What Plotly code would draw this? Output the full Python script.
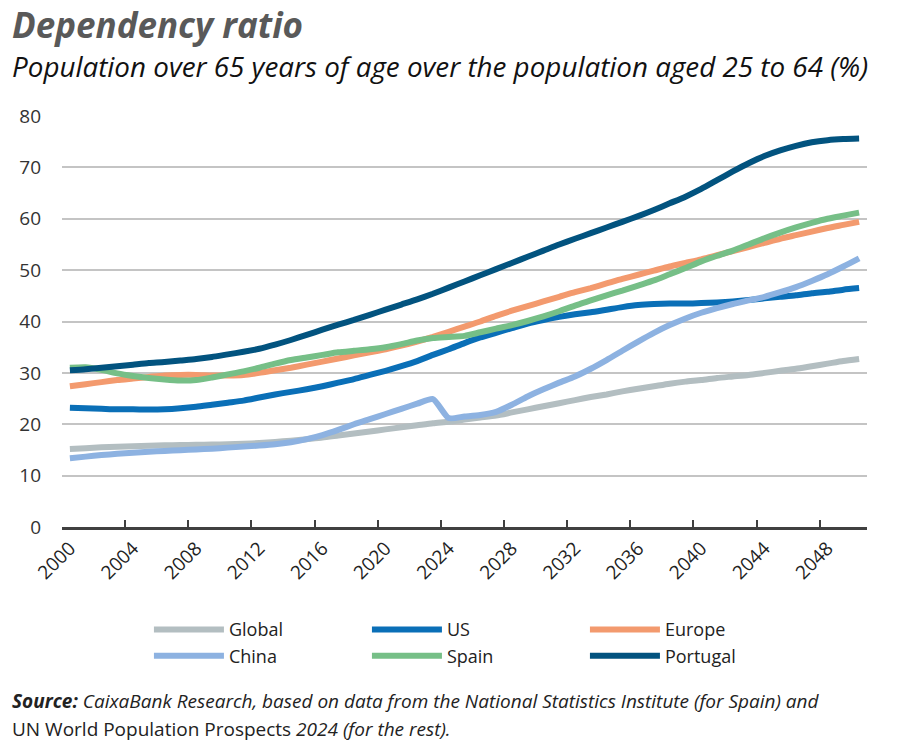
import plotly.graph_objects as go

# years 2000-2050, category axis
years = [str(y) for y in range(2000, 2051)]

global_ratio = [15.2, 15.35, 15.5, 15.6, 15.7, 15.8, 15.9, 15.95, 16.0, 16.05,
                16.1, 16.2, 16.35, 16.55, 16.8, 17.1, 17.4, 17.8, 18.2, 18.6,
                19.0, 19.4, 19.8, 20.2, 20.5, 20.9, 21.3, 21.7, 22.3, 22.9,
                23.5, 24.1, 24.7, 25.3, 25.8, 26.4, 26.9, 27.4, 27.9, 28.3,
                28.6, 29.0, 29.3, 29.6, 30.0, 30.4, 30.8, 31.3, 31.8, 32.3, 32.7]

us_ratio = [23.2, 23.1, 23.0, 22.9, 22.9, 22.85, 22.9, 23.1, 23.4, 23.8,
            24.2, 24.6, 25.2, 25.8, 26.3, 26.8, 27.4, 28.1, 28.8, 29.6,
            30.4, 31.3, 32.3, 33.5, 34.6, 35.8, 36.9, 37.8, 38.7, 39.6,
            40.3, 40.9, 41.4, 41.8, 42.3, 42.8, 43.2, 43.4, 43.5, 43.5,
            43.6, 43.7, 43.9, 44.2, 44.5, 44.8, 45.1, 45.5, 45.8, 46.2, 46.5]

europe_ratio = [27.4, 27.8, 28.2, 28.6, 28.9, 29.2, 29.5, 29.6, 29.6, 29.5,
                29.5, 29.6, 30.0, 30.5, 31.0, 31.6, 32.2, 32.8, 33.4, 34.0,
                34.6, 35.3, 36.1, 37.0, 38.0, 39.0, 40.0, 41.1, 42.1, 43.0,
                43.9, 44.8, 45.7, 46.5, 47.4, 48.3, 49.1, 49.9, 50.7, 51.4,
                52.1, 52.9, 53.7, 54.5, 55.3, 56.1, 56.8, 57.5, 58.2, 58.8, 59.4]

china_ratio = [13.4, 13.7, 14.0, 14.25, 14.45, 14.65, 14.8, 14.95, 15.1, 15.25,
               15.45, 15.65, 15.85, 16.1, 16.5, 17.1, 17.9, 18.9, 20.0, 21.0,
               22.0, 23.0, 24.0, 24.9, 21.2, 21.5, 21.8, 22.4, 23.8, 25.4,
               26.8, 28.1, 29.3, 30.8, 32.5, 34.3, 36.1, 37.8, 39.3, 40.6,
               41.7, 42.6, 43.4, 44.1, 44.8, 45.7, 46.7, 47.9, 49.2, 50.7, 52.3]

spain_ratio = [31.0, 31.1, 30.6, 29.9, 29.4, 29.0, 28.7, 28.5, 28.6, 29.1,
               29.7, 30.3, 31.0, 31.8, 32.5, 33.0, 33.5, 34.0, 34.3, 34.6,
               35.0, 35.6, 36.3, 36.8, 37.0, 37.2, 37.9, 38.6, 39.3, 40.1,
               41.0, 42.0, 43.1, 44.1, 45.1, 46.0, 47.0, 48.0, 49.2, 50.4,
               51.7, 52.8, 53.8, 55.0, 56.2, 57.3, 58.3, 59.2, 60.0, 60.6, 61.2]

portugal_ratio = [30.5, 30.7, 31.0, 31.3, 31.6, 31.9, 32.1, 32.4, 32.7, 33.1,
                  33.6, 34.1, 34.7, 35.5, 36.4, 37.4, 38.4, 39.4, 40.3, 41.3,
                  42.3, 43.3, 44.3, 45.4, 46.6, 47.8, 49.0, 50.2, 51.4, 52.6,
                  53.8, 55.0, 56.1, 57.2, 58.3, 59.4, 60.5, 61.7, 63.0, 64.3,
                  65.8, 67.5, 69.2, 70.8, 72.2, 73.3, 74.2, 74.9, 75.3, 75.5, 75.6]

series = [
    ("Global", global_ratio, "#b3bec1"),
    ("US", us_ratio, "#0a6fb7"),
    ("Europe", europe_ratio, "#f39a6e"),
    ("China", china_ratio, "#8db2e1"),
    ("Spain", spain_ratio, "#76bf87"),
    ("Portugal", portugal_ratio, "#02537f"),
]

FONT = "Open Sans"

fig = go.Figure()
for name, vals, color in series:
    fig.add_trace(go.Scatter(x=years, y=vals, name=name, mode="lines",
                             line=dict(color=color, width=6, shape="spline", smoothing=0.6)))

fig.update_layout(
    width=900, height=745,
    margin=dict(l=62, r=33, t=116, b=217.5),
    paper_bgcolor="white", plot_bgcolor="white",
    font=dict(family=FONT, size=18, color="#333333"),
    showlegend=True,
    legend=dict(orientation="h", x=0.108, xanchor="left", y=-0.205, yanchor="top",
                entrywidth=133, itemwidth=70, font=dict(size=18, color="#222222"),
                tracegroupgap=0, traceorder="normal"),
)

fig.update_xaxes(
    type="category", range=[-0.5, 50.5],
    tickmode="linear", tick0=0, dtick=4, tickson="boundaries",
    ticks="inside", ticklen=7, tickwidth=1.5, tickcolor="#404040",
    showline=True, linecolor="#404040", linewidth=2.5,
    showgrid=False, tickangle=-45,
    tickfont=dict(size=19, color="#222222"),
)
fig.update_yaxes(
    range=[0, 80], dtick=10, showgrid=True, gridcolor="#c4c4c4", gridwidth=1.5,
    zeroline=False, showline=False, ticks="", ticklabelstandoff=20,
    tickfont=dict(size=19, color="#333333"),
)

fig.add_annotation(xref="paper", yref="paper", x=-0.064, y=1.285, xanchor="left", yanchor="top",
                   text="<b><i>Dependency ratio</i></b>", showarrow=False,
                   font=dict(family=FONT, size=35, color="#595959"))
fig.add_annotation(xref="paper", yref="paper", x=-0.064, y=1.1215, xanchor="left", yanchor="middle",
                   text="<i>Population over 65 years of age over the population aged 25 to 64 (%)</i>",
                   showarrow=False, font=dict(family=FONT, size=27.8, color="#111111"))
fig.add_annotation(xref="paper", yref="paper", x=-0.064, y=-0.424, xanchor="left", yanchor="middle",
                   text="<b><i>Source:</i></b><i> CaixaBank Research, based on data from the National Statistics Institute (for Spain) and</i>",
                   showarrow=False, font=dict(family=FONT, size=19, color="#222222"))
fig.add_annotation(xref="paper", yref="paper", x=-0.064, y=-0.492, xanchor="left", yanchor="middle",
                   text="UN World Population Prospects <i>2024 (for the rest).</i>",
                   showarrow=False, font=dict(family=FONT, size=19, color="#222222"))

fig.write_html("out.html", config={"displayModeBar": False},
               post_script="document.body.style.margin='0';")
